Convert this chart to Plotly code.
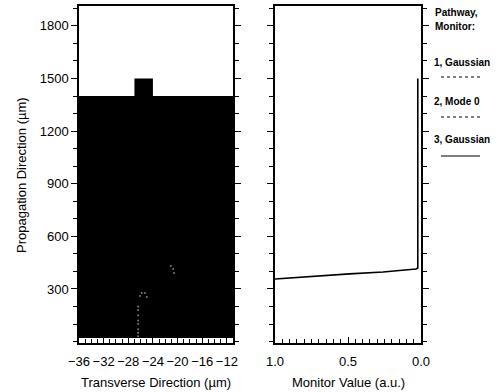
import plotly.graph_objects as go

# ---- data ----
# waveguide / field region (black) outline in left panel, transverse (um) vs propagation (um)
region_x = [-36, -36, -27, -27, -24, -24, -11, -11]
region_y = [20, 1400, 1400, 1500, 1500, 1400, 1400, 20]

# faint field speckles visible inside the black region
speck_x = [-26.4, -26.4, -26.4, -26.4, -26.4, -26.4, -26.4, -26.4,
           -26.1, -25.8, -25.3, -25.0, -21.1, -20.7, -20.6]
speck_y = [200, 180, 150, 120, 100, 70, 50, 30,
           260, 277, 277, 254, 431, 414, 391]

# monitor value trace in right panel
mon_x = [1.0, 0.83, 0.49, 0.26, 0.075, 0.034, 0.022, 0.022]
mon_y = [357, 368, 386, 397, 408, 414, 420, 1500]

x_ticks = [-36, -32, -28, -24, -20, -16, -12]
y_ticks = [300, 600, 900, 1200, 1500, 1800]
mon_ticks = [0.0, 0.5, 1.0]
mon_ticktext = ["0.0", "0.5", "1.0"]

legend_labels = ["1, Gaussian", "2, Mode 0", "3, Gaussian"]
legend_dash = ["dot", "dot", "solid"]

FONT = "Liberation Sans, Arial, sans-serif"

fig = go.Figure()
fig.add_trace(go.Scatter(x=region_x, y=region_y, mode="lines", fill="toself",
                         fillcolor="black", line=dict(color="black", width=0),
                         xaxis="x", yaxis="y", showlegend=False, hoverinfo="skip"))
fig.add_trace(go.Scatter(x=speck_x, y=speck_y, mode="markers",
                         marker=dict(color="#7a7a7a", size=2),
                         xaxis="x", yaxis="y", showlegend=False))
fig.add_trace(go.Scatter(x=mon_x, y=mon_y, mode="lines",
                         line=dict(color="black", width=1.6),
                         xaxis="x2", yaxis="y2", showlegend=False))

yr = [-8, 1914]
common_axis = dict(showline=True, linecolor="black", linewidth=1.5, showgrid=False,
                   zeroline=False, tickcolor="black", tickwidth=1.3,
                   automargin=False, tickangle=0,
                   tickfont=dict(family=FONT, size=13, color="black"))

fig.update_layout(
    width=500, height=392,
    margin=dict(l=0, r=0, t=0, b=0, autoexpand=False),
    paper_bgcolor="white", plot_bgcolor="white",
    showlegend=False,
    xaxis=dict(domain=[0.158, 0.466], range=[-36, -11], tickvals=x_ticks,
               ticks="inside", ticklen=6, mirror=True, anchor="y",
               ticklabelstandoff=6,
               minor=dict(dtick=1, tick0=0, ticks="inside", ticklen=4,
                          tickcolor="black", tickwidth=1.2),
               **common_axis),
    yaxis=dict(domain=[0.125, 0.985], range=yr, tickvals=y_ticks,
               ticks="outside", ticklen=6, mirror="ticks", anchor="x",
               minor=dict(dtick=100, tick0=0, ticks="outside", ticklen=4,
                          tickcolor="black", tickwidth=1.2),
               **common_axis),
    xaxis2=dict(domain=[0.55, 0.842], range=[1, 0], tickvals=mon_ticks,
                ticktext=mon_ticktext, ticks="inside", ticklen=6, mirror=True,
                anchor="y2", ticklabelstandoff=6,
                minor=dict(dtick=0.05, tick0=0, ticks="inside", ticklen=4,
                           tickcolor="black", tickwidth=1.2),
                **common_axis),
    yaxis2=dict(domain=[0.125, 0.985], range=yr, tickvals=y_ticks,
                showticklabels=False, ticks="outside", ticklen=6,
                mirror="ticks", anchor="x2",
                minor=dict(dtick=100, tick0=0, ticks="outside", ticklen=4,
                           tickcolor="black", tickwidth=1.2),
                **common_axis),
)

def px_x(p):
    return p / 500.0

def px_y(p):
    return 1 - p / 392.0

title_font = dict(family=FONT, size=13, color="black")
fig.add_annotation(text="Propagation Direction (\u00b5m)", x=px_x(21), y=px_y(175),
                   xref="paper", yref="paper", showarrow=False, textangle=-90,
                   font=title_font, xanchor="center", yanchor="middle")
fig.add_annotation(text="Transverse Direction (\u00b5m)", x=px_x(156), y=px_y(382),
                   xref="paper", yref="paper", showarrow=False,
                   font=title_font, xanchor="center", yanchor="middle")
fig.add_annotation(text="Monitor Value (a.u.)", x=px_x(348), y=px_y(382),
                   xref="paper", yref="paper", showarrow=False,
                   font=title_font, xanchor="center", yanchor="middle")

leg_font = dict(family=FONT, size=10, color="black")
fig.add_annotation(text="<b>Pathway,</b>", x=px_x(433), y=px_y(12), xref="paper", yref="paper",
                   showarrow=False, font=leg_font, xanchor="left", yanchor="middle")
fig.add_annotation(text="<b>Monitor:</b>", x=px_x(433), y=px_y(27), xref="paper", yref="paper",
                   showarrow=False, font=leg_font, xanchor="left", yanchor="middle")
label_y = [62, 101, 139]
line_y = [77, 117, 156]
for lab, ly, lny, dash in zip(legend_labels, label_y, line_y, legend_dash):
    fig.add_annotation(text="<b>" + lab + "</b>", x=px_x(432), y=px_y(ly),
                       xref="paper", yref="paper", showarrow=False, font=leg_font,
                       xanchor="left", yanchor="middle")
    fig.add_shape(type="line", xref="paper", yref="paper",
                  x0=px_x(441), x1=px_x(480), y0=px_y(lny), y1=px_y(lny),
                  line=dict(color="black", width=1.2, dash=dash))

fig.write_html("out.html", config={"displayModeBar": False},
               post_script="document.body.style.margin='0';document.body.style.overflow='hidden';")
